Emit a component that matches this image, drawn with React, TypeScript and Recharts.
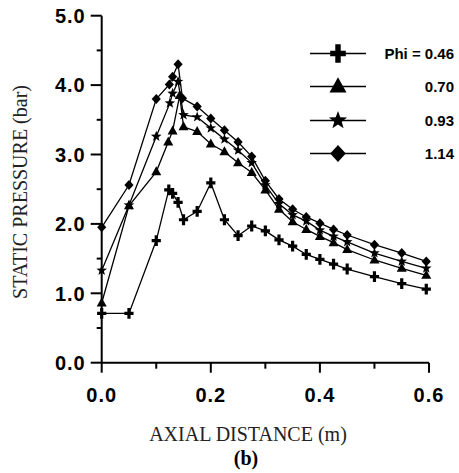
import React from 'react';
import { LineChart, Line, XAxis, YAxis, Legend } from 'recharts';

// axial stations (m) and static pressure (bar), one pair of arrays per Phi
const xPhi046 = [0, 0.05, 0.1, 0.123, 0.13, 0.14, 0.15, 0.175, 0.2, 0.225, 0.25, 0.275, 0.3, 0.325, 0.35, 0.375, 0.4, 0.425, 0.45, 0.5, 0.55, 0.595];
const pPhi046 = [0.71, 0.71, 1.76, 2.49, 2.44, 2.31, 2.06, 2.18, 2.59, 2.06, 1.83, 1.97, 1.9, 1.77, 1.68, 1.56, 1.49, 1.42, 1.35, 1.24, 1.14, 1.06];

const xPhi070 = [0, 0.05, 0.1, 0.122, 0.13, 0.143, 0.15, 0.175, 0.2, 0.225, 0.25, 0.275, 0.3, 0.325, 0.35, 0.375, 0.4, 0.425, 0.45, 0.5, 0.55, 0.595];
const pPhi070 = [0.86, 2.26, 2.75, 3.18, 3.34, 3.85, 3.4, 3.33, 3.15, 3.04, 2.88, 2.74, 2.49, 2.21, 2.03, 1.92, 1.82, 1.73, 1.63, 1.48, 1.36, 1.26];

const xPhi093 = [0, 0.05, 0.1, 0.125, 0.13, 0.14, 0.15, 0.175, 0.2, 0.225, 0.25, 0.275, 0.3, 0.325, 0.35, 0.375, 0.4, 0.425, 0.45, 0.5, 0.55, 0.595];
const pPhi093 = [1.33, 2.27, 3.26, 3.74, 3.88, 4.05, 3.57, 3.54, 3.38, 3.22, 3.06, 2.88, 2.56, 2.29, 2.13, 2.04, 1.91, 1.82, 1.74, 1.58, 1.46, 1.36];

const xPhi114 = [0, 0.05, 0.1, 0.124, 0.13, 0.14, 0.148, 0.175, 0.2, 0.225, 0.25, 0.275, 0.3, 0.325, 0.35, 0.375, 0.4, 0.425, 0.45, 0.5, 0.55, 0.595];
const pPhi114 = [1.95, 2.56, 3.8, 4.01, 4.12, 4.3, 3.81, 3.69, 3.52, 3.35, 3.18, 2.97, 2.62, 2.36, 2.21, 2.1, 2.01, 1.92, 1.84, 1.7, 1.58, 1.46];

const seriesNames = ['Phi = 0.46', '0.70', '0.93', '1.14'];
const markerKinds = ['cross', 'triangle', 'star', 'diamond'];

const xTicks = [0, 0.1, 0.2, 0.3, 0.4, 0.5, 0.6];
const xLabelled = [0, 0.2, 0.4, 0.6];
const yTicks = [0, 0.5, 1, 1.5, 2, 2.5, 3, 3.5, 4, 4.5, 5];

const toPoints = (xs: number[], ps: number[]) => xs.map((x, i) => ({ x, p: ps[i] }));
const seriesData = [
  toPoints(xPhi046, pPhi046),
  toPoints(xPhi070, pPhi070),
  toPoints(xPhi093, pPhi093),
  toPoints(xPhi114, pPhi114),
];

const SANS = '"Liberation Sans", Arial, sans-serif';
const SERIF = '"Liberation Serif", "Times New Roman", serif';

function Marker({ kind, cx, cy, s = 1 }: { kind: string; cx: number; cy: number; s?: number }) {
  if (cx == null || cy == null) return null;
  if (kind === 'cross') {
    const a = 4.6 * s, b = 5.4 * s, t = 1.6 * s;
    const d = `M${cx - t},${cy - b}H${cx + t}V${cy - t}H${cx + a}V${cy + t}H${cx + t}V${cy + b}H${cx - t}V${cy + t}H${cx - a}V${cy - t}H${cx - t}Z`;
    return <path d={d} fill="#000" />;
  }
  if (kind === 'triangle') {
    const pts = `${cx},${cy - 5.5 * s} ${cx + 5 * s},${cy + 3.5 * s} ${cx - 5 * s},${cy + 3.5 * s}`;
    return <polygon points={pts} fill="#000" />;
  }
  if (kind === 'star') {
    const pts: string[] = [];
    for (let i = 0; i < 10; i++) {
      const r = (i % 2 === 0 ? 5.6 : 2.3) * s;
      const ang = -Math.PI / 2 + (i * Math.PI) / 5;
      pts.push(`${cx + r * Math.cos(ang)},${cy + r * Math.sin(ang)}`);
    }
    return <polygon points={pts.join(' ')} fill="#000" />;
  }
  const pts = `${cx},${cy - 5 * s} ${cx + 4.6 * s},${cy} ${cx},${cy + 5 * s} ${cx - 4.6 * s},${cy}`;
  return <polygon points={pts} fill="#000" />;
}

const XTick = (props: any) => {
  const { x, y, payload } = props;
  const v = payload.value;
  const major = xLabelled.some((t) => Math.abs(t - v) < 1e-6);
  return (
    <g>
      <line x1={x} y1={y} x2={x} y2={y + (major ? 10 : 6)} stroke="#000" strokeWidth={2} />
      {major && (
        <text x={x} y={y + 39} textAnchor="middle" fontFamily={SANS} fontWeight="bold" fontSize={20} letterSpacing={1} fill="#000">
          {v.toFixed(1)}
        </text>
      )}
    </g>
  );
};

const YTick = (props: any) => {
  const { x, y, payload } = props;
  const v = payload.value;
  const major = Math.abs(v - Math.round(v)) < 1e-6;
  return (
    <g>
      <line x1={x} y1={y} x2={x - (major ? 11 : 5)} y2={y} stroke="#000" strokeWidth={2} />
      {major && (
        <text x={x - 16} y={y} dy="0.36em" textAnchor="end" fontFamily={SANS} fontWeight="bold" fontSize={20} letterSpacing={1} fill="#000">
          {v.toFixed(1)}
        </text>
      )}
    </g>
  );
};

const renderLegend = (props: any) => {
  const items = [...(props.payload || [])].sort(
    (a: any, b: any) => seriesNames.indexOf(a.value) - seriesNames.indexOf(b.value)
  );
  return (
    <div>
      {items.map((entry: any) => {
        const idx = seriesNames.indexOf(entry.value);
        return (
          <div key={entry.value} style={{ display: 'flex', alignItems: 'center', height: 33.3 }}>
            <svg width={58} height={33} style={{ display: 'block' }}>
              <line x1={0} y1={16.5} x2={56} y2={16.5} stroke="#000" strokeWidth={1.5} />
              <Marker kind={markerKinds[idx]} cx={28} cy={16.5} s={1.7} />
            </svg>
            <span style={{ flex: 1, textAlign: 'right', fontFamily: SANS, fontWeight: 'bold', fontSize: 15, color: '#000' }}>
              {entry.value}
            </span>
          </div>
        );
      })}
    </div>
  );
};

export default function App() {
  return (
    <div style={{ position: 'absolute', left: 0, top: 0, background: '#fff' }}>
      <LineChart width={459} height={473} margin={{ top: 15.7, right: 30, left: 0, bottom: 0 }}>
        <XAxis
          type="number"
          dataKey="x"
          domain={[0, 0.6]}
          ticks={xTicks}
          interval={0}
          height={110.3}
          tickSize={0}
          tickMargin={0}
          tickLine={false}
          tick={<XTick />}
          axisLine={{ stroke: '#000', strokeWidth: 2 }}
        />
        <YAxis
          type="number"
          dataKey="p"
          domain={[0, 5]}
          ticks={yTicks}
          interval={0}
          width={101.7}
          tickSize={0}
          tickMargin={0}
          tickLine={false}
          tick={<YTick />}
          axisLine={{ stroke: '#000', strokeWidth: 2 }}
        />
        <Legend
          layout="horizontal"
          align="center"
          verticalAlign="middle"
          content={renderLegend}
          wrapperStyle={{ left: 310, top: 37, width: 144, height: 'auto' }}
        />
        {seriesData.map((d, i) => (
          <Line
            key={seriesNames[i]}
            data={d}
            dataKey="p"
            name={seriesNames[i]}
            stroke="#000"
            strokeWidth={1.3}
            isAnimationActive={false}
            dot={(dp: any) => <Marker key={`${i}-${dp.index}`} kind={markerKinds[i]} cx={dp.cx} cy={dp.cy} />}
            activeDot={false}
          />
        ))}
        <text x={248} y={441} textAnchor="middle" fontFamily={SERIF} fontSize={20} fill="#222">
          AXIAL DISTANCE (m)
        </text>
        <text x={246} y={465} textAnchor="middle" fontFamily={SERIF} fontWeight="bold" fontSize={20} fill="#000">
          (b)
        </text>
        <text
          x={0}
          y={0}
          transform="translate(26.5,192) rotate(-90)"
          textAnchor="middle"
          fontFamily={SERIF}
          fontSize={20}
          fill="#222"
        >
          STATIC PRESSURE (bar)
        </text>
      </LineChart>
    </div>
  );
}
